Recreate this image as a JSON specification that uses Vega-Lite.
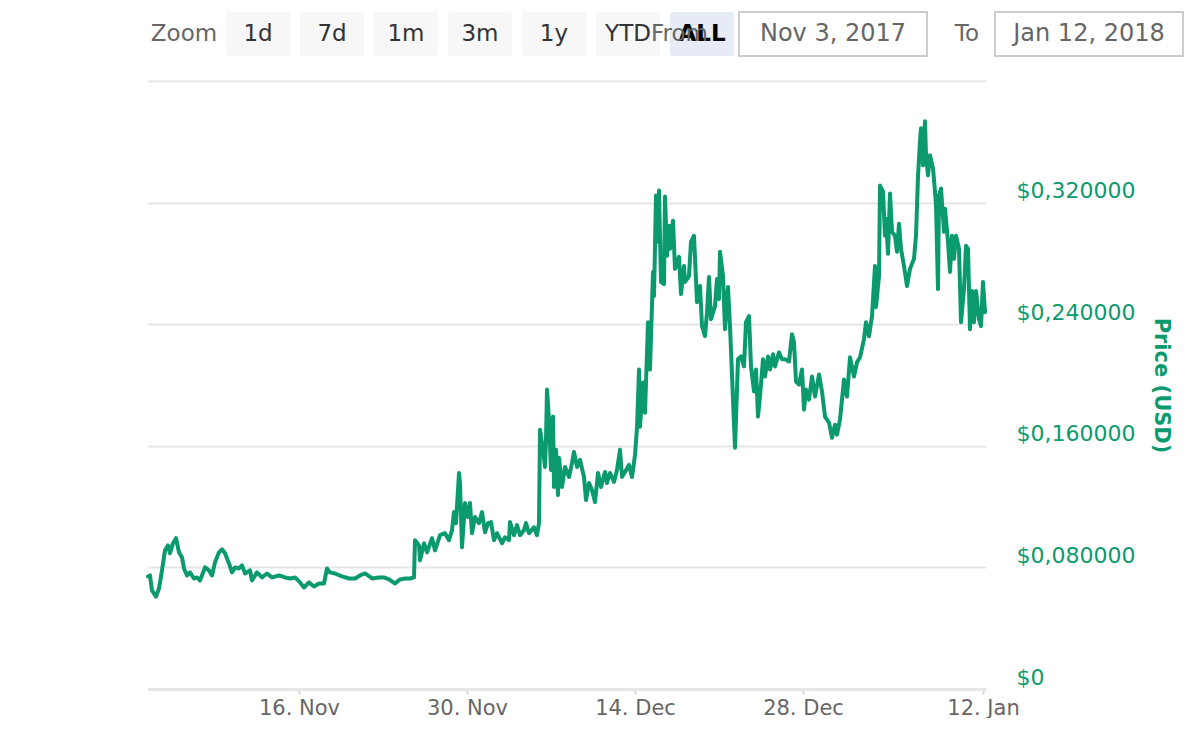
{
  "$schema": "https://vega.github.io/schema/vega-lite/v6.json",
  "padding": {"left": 146, "top": 11, "right": 0, "bottom": 0},
  "bounds": "flush",
  "spacing": 25,
  "config": {
    "font": "DejaVu Sans",
    "view": {"stroke": null}
  },
  "vconcat": [
    {
      "width": 1036,
      "height": 44,
      "layer": [
        {
          "data": {
            "values": [
              {"label": "Zoom", "kind": "label"},
              {"label": "1d", "kind": "button"},
              {"label": "7d", "kind": "button"},
              {"label": "1m", "kind": "button"},
              {"label": "3m", "kind": "button"},
              {"label": "1y", "kind": "button"},
              {"label": "YTD", "kind": "button"},
              {"label": "ALL", "kind": "active"}
            ]
          },
          "encoding": {
            "x": {
              "field": "label",
              "type": "nominal",
              "scale": {
                "domain": ["Zoom", "1d", "7d", "1m", "3m", "1y", "YTD", "ALL"],
                "range": [4, 586],
                "paddingInner": 0.1351,
                "paddingOuter": 0
              },
              "axis": null
            }
          },
          "layer": [
            {
              "transform": [{"filter": "datum.kind != 'label'"}],
              "mark": {"type": "rect", "cornerRadius": 3},
              "encoding": {
                "fill": {
                  "condition": {"test": "datum.kind == 'active'", "value": "#e6ebf5"},
                  "value": "#f7f7f7"
                }
              }
            },
            {
              "transform": [{"filter": "datum.kind != 'active'"}],
              "mark": {"type": "text", "fontSize": 23, "baseline": "middle"},
              "encoding": {
                "text": {"field": "label"},
                "color": {
                  "condition": {"test": "datum.kind == 'label'", "value": "#666666"},
                  "value": "#333333"
                }
              }
            },
            {
              "transform": [{"filter": "datum.kind == 'active'"}],
              "mark": {"type": "text", "fontSize": 23, "baseline": "middle", "fontWeight": "bold", "color": "#000000"},
              "encoding": {"text": {"field": "label"}}
            }
          ]
        },
        {
          "data": {
            "values": [
              {"label": "From", "box": "Nov 3, 2017"},
              {"label": "To", "box": "Jan 12, 2018"}
            ]
          },
          "encoding": {
            "x": {
              "field": "box",
              "type": "nominal",
              "scale": {
                "domain": ["Nov 3, 2017", "Jan 12, 2018"],
                "range": [591, 1035],
                "paddingInner": 0.2656,
                "paddingOuter": 0
              },
              "axis": null
            }
          },
          "layer": [
            {
              "mark": {"type": "rect", "fill": "#ffffff", "stroke": "#cccccc", "strokeWidth": 2}
            },
            {
              "mark": {"type": "text", "fontSize": 24, "baseline": "middle", "color": "#666666"},
              "encoding": {"text": {"field": "box"}}
            },
            {
              "transform": [{"filter": "datum.label == 'From'"}],
              "mark": {"type": "text", "fontSize": 23, "baseline": "middle", "align": "right", "dx": -31, "color": "#666666"},
              "encoding": {
                "x": {"field": "box", "type": "nominal", "bandPosition": 0},
                "text": {"field": "label"}
              }
            },
            {
              "transform": [{"filter": "datum.label == 'To'"}],
              "mark": {"type": "text", "fontSize": 23, "baseline": "middle", "align": "right", "dx": -16, "color": "#666666"},
              "encoding": {
                "x": {"field": "box", "type": "nominal", "bandPosition": 0},
                "text": {"field": "label"}
              }
            }
          ]
        }
      ],
      "resolve": {"scale": {"x": "independent"}}
    },
    {
      "width": 838,
      "height": 608,
      "data": {
        "values": [
          {"date": "2017-11-03T10:00", "price": 0.0740},
          {"date": "2017-11-03T14:00", "price": 0.0747},
          {"date": "2017-11-03T18:00", "price": 0.0648},
          {"date": "2017-11-04T02:00", "price": 0.0608},
          {"date": "2017-11-04T08:00", "price": 0.0661},
          {"date": "2017-11-04T14:00", "price": 0.0780},
          {"date": "2017-11-04T20:00", "price": 0.0912},
          {"date": "2017-11-05T02:00", "price": 0.0945},
          {"date": "2017-11-05T06:00", "price": 0.0893},
          {"date": "2017-11-05T12:00", "price": 0.0959},
          {"date": "2017-11-05T18:00", "price": 0.0992},
          {"date": "2017-11-06T00:00", "price": 0.0899},
          {"date": "2017-11-06T06:00", "price": 0.0866},
          {"date": "2017-11-06T10:00", "price": 0.0793},
          {"date": "2017-11-06T16:00", "price": 0.0747},
          {"date": "2017-11-06T22:00", "price": 0.0767},
          {"date": "2017-11-07T06:00", "price": 0.0727},
          {"date": "2017-11-07T12:00", "price": 0.0734},
          {"date": "2017-11-07T18:00", "price": 0.0714},
          {"date": "2017-11-08T04:00", "price": 0.0800},
          {"date": "2017-11-08T12:00", "price": 0.0780},
          {"date": "2017-11-08T18:00", "price": 0.0747},
          {"date": "2017-11-09T00:00", "price": 0.0833},
          {"date": "2017-11-09T08:00", "price": 0.0899},
          {"date": "2017-11-09T14:00", "price": 0.0919},
          {"date": "2017-11-09T20:00", "price": 0.0893},
          {"date": "2017-11-10T04:00", "price": 0.0826},
          {"date": "2017-11-10T10:00", "price": 0.0767},
          {"date": "2017-11-10T16:00", "price": 0.0800},
          {"date": "2017-11-11T00:00", "price": 0.0793},
          {"date": "2017-11-11T06:00", "price": 0.0813},
          {"date": "2017-11-11T12:00", "price": 0.0760},
          {"date": "2017-11-11T22:00", "price": 0.0780},
          {"date": "2017-11-12T02:00", "price": 0.0714},
          {"date": "2017-11-12T12:00", "price": 0.0767},
          {"date": "2017-11-12T22:00", "price": 0.0734},
          {"date": "2017-11-13T08:00", "price": 0.0760},
          {"date": "2017-11-13T18:00", "price": 0.0734},
          {"date": "2017-11-14T08:00", "price": 0.0747},
          {"date": "2017-11-14T20:00", "price": 0.0734},
          {"date": "2017-11-15T06:00", "price": 0.0727},
          {"date": "2017-11-15T16:00", "price": 0.0734},
          {"date": "2017-11-16T02:00", "price": 0.0701},
          {"date": "2017-11-16T10:00", "price": 0.0668},
          {"date": "2017-11-16T20:00", "price": 0.0701},
          {"date": "2017-11-17T06:00", "price": 0.0674},
          {"date": "2017-11-17T16:00", "price": 0.0694},
          {"date": "2017-11-18T02:00", "price": 0.0694},
          {"date": "2017-11-18T08:00", "price": 0.0793},
          {"date": "2017-11-18T14:00", "price": 0.0767},
          {"date": "2017-11-19T00:00", "price": 0.0760},
          {"date": "2017-11-19T14:00", "price": 0.0741},
          {"date": "2017-11-20T04:00", "price": 0.0727},
          {"date": "2017-11-20T16:00", "price": 0.0727},
          {"date": "2017-11-21T02:00", "price": 0.0747},
          {"date": "2017-11-21T12:00", "price": 0.0760},
          {"date": "2017-11-22T02:00", "price": 0.0727},
          {"date": "2017-11-22T16:00", "price": 0.0734},
          {"date": "2017-11-23T02:00", "price": 0.0734},
          {"date": "2017-11-23T12:00", "price": 0.0721},
          {"date": "2017-11-24T00:00", "price": 0.0694},
          {"date": "2017-11-24T10:00", "price": 0.0721},
          {"date": "2017-11-24T20:00", "price": 0.0727},
          {"date": "2017-11-25T06:00", "price": 0.0727},
          {"date": "2017-11-25T14:00", "price": 0.0734},
          {"date": "2017-11-25T16:00", "price": 0.0979},
          {"date": "2017-11-26T00:00", "price": 0.0945},
          {"date": "2017-11-26T02:00", "price": 0.0846},
          {"date": "2017-11-26T10:00", "price": 0.0959},
          {"date": "2017-11-26T16:00", "price": 0.0899},
          {"date": "2017-11-27T02:00", "price": 0.0992},
          {"date": "2017-11-27T08:00", "price": 0.0912},
          {"date": "2017-11-27T18:00", "price": 0.1012},
          {"date": "2017-11-28T04:00", "price": 0.1025},
          {"date": "2017-11-28T12:00", "price": 0.0979},
          {"date": "2017-11-28T18:00", "price": 0.1045},
          {"date": "2017-11-28T22:00", "price": 0.1164},
          {"date": "2017-11-29T02:00", "price": 0.1091},
          {"date": "2017-11-29T08:00", "price": 0.1421},
          {"date": "2017-11-29T10:00", "price": 0.1355},
          {"date": "2017-11-29T14:00", "price": 0.0932},
          {"date": "2017-11-29T20:00", "price": 0.1223},
          {"date": "2017-11-30T02:00", "price": 0.1131},
          {"date": "2017-11-30T06:00", "price": 0.1223},
          {"date": "2017-11-30T10:00", "price": 0.1025},
          {"date": "2017-11-30T16:00", "price": 0.1131},
          {"date": "2017-12-01T00:00", "price": 0.1091},
          {"date": "2017-12-01T06:00", "price": 0.1164},
          {"date": "2017-12-01T12:00", "price": 0.1031},
          {"date": "2017-12-01T18:00", "price": 0.1091},
          {"date": "2017-12-02T00:00", "price": 0.1098},
          {"date": "2017-12-02T06:00", "price": 0.0979},
          {"date": "2017-12-02T12:00", "price": 0.1025},
          {"date": "2017-12-02T22:00", "price": 0.0959},
          {"date": "2017-12-03T04:00", "price": 0.0998},
          {"date": "2017-12-03T12:00", "price": 0.0979},
          {"date": "2017-12-03T14:00", "price": 0.1098},
          {"date": "2017-12-03T22:00", "price": 0.1012},
          {"date": "2017-12-04T04:00", "price": 0.1078},
          {"date": "2017-12-04T10:00", "price": 0.1012},
          {"date": "2017-12-04T18:00", "price": 0.1045},
          {"date": "2017-12-04T22:00", "price": 0.1091},
          {"date": "2017-12-05T04:00", "price": 0.1025},
          {"date": "2017-12-05T14:00", "price": 0.1064},
          {"date": "2017-12-05T20:00", "price": 0.1012},
          {"date": "2017-12-06T00:00", "price": 0.1091},
          {"date": "2017-12-06T02:00", "price": 0.1706},
          {"date": "2017-12-06T08:00", "price": 0.1574},
          {"date": "2017-12-06T12:00", "price": 0.1461},
          {"date": "2017-12-06T14:00", "price": 0.1640},
          {"date": "2017-12-06T16:00", "price": 0.1970},
          {"date": "2017-12-06T20:00", "price": 0.1772},
          {"date": "2017-12-07T00:00", "price": 0.1441},
          {"date": "2017-12-07T04:00", "price": 0.1792},
          {"date": "2017-12-07T06:00", "price": 0.1329},
          {"date": "2017-12-07T10:00", "price": 0.1574},
          {"date": "2017-12-07T14:00", "price": 0.1276},
          {"date": "2017-12-07T16:00", "price": 0.1521},
          {"date": "2017-12-07T22:00", "price": 0.1329},
          {"date": "2017-12-08T04:00", "price": 0.1461},
          {"date": "2017-12-08T12:00", "price": 0.1395},
          {"date": "2017-12-08T18:00", "price": 0.1488},
          {"date": "2017-12-08T22:00", "price": 0.1560},
          {"date": "2017-12-09T04:00", "price": 0.1461},
          {"date": "2017-12-09T10:00", "price": 0.1507},
          {"date": "2017-12-09T18:00", "price": 0.1395},
          {"date": "2017-12-09T22:00", "price": 0.1243},
          {"date": "2017-12-10T04:00", "price": 0.1355},
          {"date": "2017-12-10T10:00", "price": 0.1309},
          {"date": "2017-12-10T16:00", "price": 0.1230},
          {"date": "2017-12-10T22:00", "price": 0.1421},
          {"date": "2017-12-11T04:00", "price": 0.1329},
          {"date": "2017-12-11T12:00", "price": 0.1428},
          {"date": "2017-12-11T16:00", "price": 0.1355},
          {"date": "2017-12-11T22:00", "price": 0.1421},
          {"date": "2017-12-12T06:00", "price": 0.1362},
          {"date": "2017-12-12T12:00", "price": 0.1441},
          {"date": "2017-12-12T18:00", "price": 0.1574},
          {"date": "2017-12-12T22:00", "price": 0.1395},
          {"date": "2017-12-13T04:00", "price": 0.1428},
          {"date": "2017-12-13T12:00", "price": 0.1474},
          {"date": "2017-12-13T18:00", "price": 0.1395},
          {"date": "2017-12-14T00:00", "price": 0.1540},
          {"date": "2017-12-14T04:00", "price": 0.1719},
          {"date": "2017-12-14T08:00", "price": 0.2102},
          {"date": "2017-12-14T10:00", "price": 0.1726},
          {"date": "2017-12-14T16:00", "price": 0.2017},
          {"date": "2017-12-14T20:00", "price": 0.1818},
          {"date": "2017-12-15T02:00", "price": 0.2413},
          {"date": "2017-12-15T06:00", "price": 0.2102},
          {"date": "2017-12-15T12:00", "price": 0.2744},
          {"date": "2017-12-15T14:00", "price": 0.2585},
          {"date": "2017-12-15T18:00", "price": 0.3246},
          {"date": "2017-12-15T22:00", "price": 0.2942},
          {"date": "2017-12-16T00:00", "price": 0.3279},
          {"date": "2017-12-16T04:00", "price": 0.2678},
          {"date": "2017-12-16T10:00", "price": 0.2664},
          {"date": "2017-12-16T12:00", "price": 0.3240},
          {"date": "2017-12-16T16:00", "price": 0.2850},
          {"date": "2017-12-16T20:00", "price": 0.3048},
          {"date": "2017-12-16T22:00", "price": 0.2896},
          {"date": "2017-12-17T04:00", "price": 0.3081},
          {"date": "2017-12-17T08:00", "price": 0.2764},
          {"date": "2017-12-17T16:00", "price": 0.2843},
          {"date": "2017-12-17T20:00", "price": 0.2598},
          {"date": "2017-12-18T02:00", "price": 0.2783},
          {"date": "2017-12-18T04:00", "price": 0.2678},
          {"date": "2017-12-18T12:00", "price": 0.2717},
          {"date": "2017-12-18T16:00", "price": 0.2942},
          {"date": "2017-12-18T22:00", "price": 0.2982},
          {"date": "2017-12-19T04:00", "price": 0.2545},
          {"date": "2017-12-19T10:00", "price": 0.2651},
          {"date": "2017-12-19T14:00", "price": 0.2387},
          {"date": "2017-12-19T20:00", "price": 0.2321},
          {"date": "2017-12-20T00:00", "price": 0.2479},
          {"date": "2017-12-20T04:00", "price": 0.2711},
          {"date": "2017-12-20T08:00", "price": 0.2433},
          {"date": "2017-12-20T16:00", "price": 0.2519},
          {"date": "2017-12-20T20:00", "price": 0.2698},
          {"date": "2017-12-21T00:00", "price": 0.2565},
          {"date": "2017-12-21T02:00", "price": 0.2876},
          {"date": "2017-12-21T08:00", "price": 0.2717},
          {"date": "2017-12-21T12:00", "price": 0.2367},
          {"date": "2017-12-21T18:00", "price": 0.2645},
          {"date": "2017-12-21T22:00", "price": 0.2387},
          {"date": "2017-12-22T04:00", "price": 0.1904},
          {"date": "2017-12-22T08:00", "price": 0.1587},
          {"date": "2017-12-22T14:00", "price": 0.2169},
          {"date": "2017-12-22T20:00", "price": 0.2188},
          {"date": "2017-12-23T02:00", "price": 0.2122},
          {"date": "2017-12-23T06:00", "price": 0.2413},
          {"date": "2017-12-23T12:00", "price": 0.2453},
          {"date": "2017-12-23T16:00", "price": 0.2122},
          {"date": "2017-12-23T22:00", "price": 0.1957},
          {"date": "2017-12-24T02:00", "price": 0.2102},
          {"date": "2017-12-24T06:00", "price": 0.1792},
          {"date": "2017-12-24T10:00", "price": 0.1924},
          {"date": "2017-12-24T16:00", "price": 0.2169},
          {"date": "2017-12-24T20:00", "price": 0.2056},
          {"date": "2017-12-25T02:00", "price": 0.2188},
          {"date": "2017-12-25T06:00", "price": 0.2102},
          {"date": "2017-12-25T12:00", "price": 0.2202},
          {"date": "2017-12-25T16:00", "price": 0.2122},
          {"date": "2017-12-26T00:00", "price": 0.2215},
          {"date": "2017-12-26T06:00", "price": 0.2169},
          {"date": "2017-12-26T12:00", "price": 0.2169},
          {"date": "2017-12-26T20:00", "price": 0.2155},
          {"date": "2017-12-27T02:00", "price": 0.2334},
          {"date": "2017-12-27T06:00", "price": 0.2281},
          {"date": "2017-12-27T10:00", "price": 0.2023},
          {"date": "2017-12-27T16:00", "price": 0.2003},
          {"date": "2017-12-27T22:00", "price": 0.2102},
          {"date": "2017-12-28T02:00", "price": 0.1838},
          {"date": "2017-12-28T06:00", "price": 0.1970},
          {"date": "2017-12-28T12:00", "price": 0.1904},
          {"date": "2017-12-28T18:00", "price": 0.2056},
          {"date": "2017-12-29T00:00", "price": 0.1924},
          {"date": "2017-12-29T08:00", "price": 0.2069},
          {"date": "2017-12-29T14:00", "price": 0.1957},
          {"date": "2017-12-29T20:00", "price": 0.1792},
          {"date": "2017-12-30T04:00", "price": 0.1752},
          {"date": "2017-12-30T10:00", "price": 0.1653},
          {"date": "2017-12-30T16:00", "price": 0.1739},
          {"date": "2017-12-30T20:00", "price": 0.1673},
          {"date": "2017-12-31T02:00", "price": 0.1772},
          {"date": "2017-12-31T10:00", "price": 0.2036},
          {"date": "2017-12-31T16:00", "price": 0.1924},
          {"date": "2017-12-31T22:00", "price": 0.2182},
          {"date": "2018-01-01T06:00", "price": 0.2056},
          {"date": "2018-01-01T12:00", "price": 0.2149},
          {"date": "2018-01-01T18:00", "price": 0.2182},
          {"date": "2018-01-02T02:00", "price": 0.2301},
          {"date": "2018-01-02T06:00", "price": 0.2413},
          {"date": "2018-01-02T12:00", "price": 0.2321},
          {"date": "2018-01-02T18:00", "price": 0.2453},
          {"date": "2018-01-03T00:00", "price": 0.2783},
          {"date": "2018-01-03T02:00", "price": 0.2512},
          {"date": "2018-01-03T08:00", "price": 0.2717},
          {"date": "2018-01-03T10:00", "price": 0.3312},
          {"date": "2018-01-03T16:00", "price": 0.3273},
          {"date": "2018-01-03T20:00", "price": 0.2982},
          {"date": "2018-01-03T22:00", "price": 0.3094},
          {"date": "2018-01-04T02:00", "price": 0.2863},
          {"date": "2018-01-04T06:00", "price": 0.3260},
          {"date": "2018-01-04T10:00", "price": 0.3008},
          {"date": "2018-01-04T16:00", "price": 0.2982},
          {"date": "2018-01-04T20:00", "price": 0.2876},
          {"date": "2018-01-05T00:00", "price": 0.3061},
          {"date": "2018-01-05T04:00", "price": 0.2896},
          {"date": "2018-01-05T10:00", "price": 0.2783},
          {"date": "2018-01-05T16:00", "price": 0.2651},
          {"date": "2018-01-05T22:00", "price": 0.2764},
          {"date": "2018-01-06T06:00", "price": 0.2830},
          {"date": "2018-01-06T10:00", "price": 0.2982},
          {"date": "2018-01-06T14:00", "price": 0.3372},
          {"date": "2018-01-06T18:00", "price": 0.3603},
          {"date": "2018-01-06T20:00", "price": 0.3689},
          {"date": "2018-01-07T00:00", "price": 0.3445},
          {"date": "2018-01-07T04:00", "price": 0.3736},
          {"date": "2018-01-07T06:00", "price": 0.3511},
          {"date": "2018-01-07T10:00", "price": 0.3379},
          {"date": "2018-01-07T14:00", "price": 0.3511},
          {"date": "2018-01-07T20:00", "price": 0.3425},
          {"date": "2018-01-08T00:00", "price": 0.3273},
          {"date": "2018-01-08T02:00", "price": 0.3180},
          {"date": "2018-01-08T06:00", "price": 0.2631},
          {"date": "2018-01-08T08:00", "price": 0.3246},
          {"date": "2018-01-08T12:00", "price": 0.3293},
          {"date": "2018-01-08T18:00", "price": 0.3008},
          {"date": "2018-01-08T20:00", "price": 0.3160},
          {"date": "2018-01-09T02:00", "price": 0.2942},
          {"date": "2018-01-09T06:00", "price": 0.2744},
          {"date": "2018-01-09T10:00", "price": 0.2982},
          {"date": "2018-01-09T14:00", "price": 0.2830},
          {"date": "2018-01-09T18:00", "price": 0.2982},
          {"date": "2018-01-10T00:00", "price": 0.2896},
          {"date": "2018-01-10T04:00", "price": 0.2413},
          {"date": "2018-01-10T10:00", "price": 0.2631},
          {"date": "2018-01-10T14:00", "price": 0.2916},
          {"date": "2018-01-10T18:00", "price": 0.2896},
          {"date": "2018-01-10T22:00", "price": 0.2367},
          {"date": "2018-01-11T02:00", "price": 0.2618},
          {"date": "2018-01-11T06:00", "price": 0.2413},
          {"date": "2018-01-11T10:00", "price": 0.2618},
          {"date": "2018-01-11T16:00", "price": 0.2433},
          {"date": "2018-01-11T20:00", "price": 0.2387},
          {"date": "2018-01-12T00:00", "price": 0.2678},
          {"date": "2018-01-12T04:00", "price": 0.2479}
        ]
      },
      "mark": {"type": "line", "color": "#0a9a6e", "strokeWidth": 4, "strokeJoin": "round", "strokeCap": "round"},
      "encoding": {
        "x": {
          "field": "date",
          "type": "temporal",
          "scale": {
            "domain": [
              {"year": 2017, "month": 11, "date": 3, "hours": 10},
              {"year": 2018, "month": 1, "date": 12, "hours": 6}
            ]
          },
          "axis": {
            "title": null,
            "values": [
              {"year": 2017, "month": 11, "date": 16},
              {"year": 2017, "month": 11, "date": 30},
              {"year": 2017, "month": 12, "date": 14},
              {"year": 2017, "month": 12, "date": 28},
              {"year": 2018, "month": 1, "date": 12}
            ],
            "labelExpr": "timeFormat(datum.value, '%-d. %b')",
            "labelFontSize": 21,
            "labelColor": "#666666",
            "labelPadding": 3,
            "labelFlush": false,
            "labelOverlap": false,
            "domainColor": "#e6e6e6",
            "domainWidth": 3,
            "tickColor": "#ccd6eb",
            "tickWidth": 2,
            "tickSize": 5,
            "grid": false
          }
        },
        "y": {
          "field": "price",
          "type": "quantitative",
          "scale": {"domain": [0, 0.4]},
          "axis": {
            "orient": "right",
            "title": "Price (USD)",
            "titleColor": "#0a9a6e",
            "titleFontSize": 21,
            "titleFontWeight": "bold",
            "titleAngle": 90,
            "titlePadding": 16,
            "values": [0, 0.08, 0.16, 0.24, 0.32, 0.4],
            "labelExpr": "datum.value == 0 ? '$0' : datum.value > 0.35 ? '' : '$' + replace(format(datum.value, '.6f'), '.', ',')",
            "labelColor": "#0a9a6e",
            "labelFontSize": 22,
            "labelPadding": 30,
            "labelBaseline": "middle",
            "labelOffset": -12,
            "labelFlush": false,
            "domain": false,
            "ticks": false,
            "grid": true,
            "gridColor": "#e6e6e6",
            "gridWidth": 2
          }
        }
      }
    }
  ]
}
